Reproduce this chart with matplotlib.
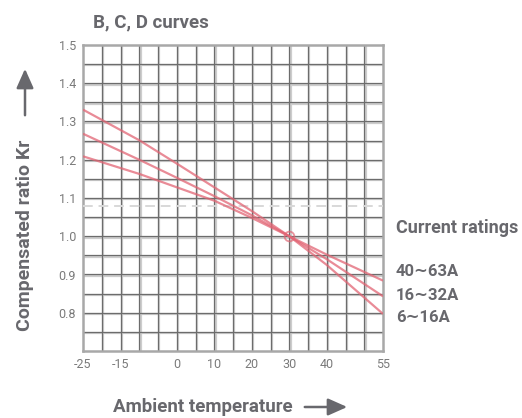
import matplotlib
matplotlib.use("Agg")
import matplotlib.pyplot as plt
import matplotlib.transforms as mtransforms
from matplotlib.patches import FancyArrowPatch
import numpy as np

# data
temps = [-25, -10, 0, 10, 20, 30, 40, 55]
kr_6_16 = [1.331, 1.251, 1.19, 1.128, 1.066, 1.0, 0.925, 0.797]
kr_16_32 = [1.268, 1.200, 1.153, 1.105, 1.055, 1.0, 0.94, 0.843]
kr_40_63 = [1.209, 1.163, 1.128, 1.093, 1.048, 1.0, 0.952, 0.884]
rating_labels = ["40\u223c63A", "16\u223c32A", "6\u223c16A"]
xtick_vals = [-25, -15, 0, 10, 20, 30, 40, 55]
ytick_vals = [0.8, 0.9, 1.0, 1.1, 1.2, 1.3, 1.4, 1.5]
ref_level = 1.08
cross_point = (30, 1.0)

font = ["Roboto", "DejaVu Sans"]
txt_col = "#68686d"
red = "#e26574"

fig = plt.figure(figsize=(5.22, 4.18), dpi=100)
ax = fig.add_axes([83 / 522, 1 - 351 / 418, 300 / 522, 306 / 418])
ax.set_xlim(-25, 55)
ax.set_ylim(0.7, 1.5)

# grid: dark thin line with a pale band beside it
shift = mtransforms.ScaledTranslation(1.3 / 100, -1.3 / 100, fig.dpi_scale_trans)
xt = ax.get_xaxis_transform()
yt = ax.get_yaxis_transform()
for xv in np.arange(-20, 55, 5):
    ax.plot([xv, xv], [0, 1], color="#cdcdcd", lw=1.6, transform=xt + shift, zorder=1)
    ax.plot([xv, xv], [0, 1], color="#6c6c6c", lw=0.9, transform=xt, zorder=2)
for yv in np.arange(0.75, 1.5, 0.05):
    ax.plot([0, 1], [yv, yv], color="#cdcdcd", lw=1.6, transform=yt + shift, zorder=1)
    ax.plot([0, 1], [yv, yv], color="#6c6c6c", lw=0.9, transform=yt, zorder=2)

ax.axhline(ref_level, color="#d8d8d8", lw=1.4, ls=(0, (5, 3)), zorder=3)

for ys in (kr_6_16, kr_16_32, kr_40_63):
    ax.plot(temps, ys, color=red, lw=1.6, alpha=0.75, zorder=4, solid_capstyle="butt")
ax.plot(*cross_point, "o", ms=7, mfc="none", mec=red, mew=1.3, alpha=0.7, zorder=5)

for s in ax.spines.values():
    s.set_color("#a8a8a8")
    s.set_linewidth(1.8)

ax.set_xticks(xtick_vals)
ax.set_xticklabels([str(v) for v in xtick_vals])
ax.set_yticks(ytick_vals)
ax.set_yticklabels(["%.1f" % v for v in ytick_vals])
ax.tick_params(length=0, pad=5, labelcolor="#7a7a7a", labelsize=9)
for lab in ax.get_xticklabels() + ax.get_yticklabels():
    lab.set_family(font)

fig.text(93 / 522, 1 - 22 / 418, "B, C, D curves", family=font, fontweight="bold",
         fontsize=13.5, color=txt_col, ha="left", va="center")
fig.text(396 / 522, 1 - 228 / 418, "Current ratings", family=font, fontweight="bold",
         fontsize=13, color=txt_col, ha="left", va="center")
for lab, yp in zip(rating_labels, [272, 296, 318]):
    fig.text(396 / 522, 1 - yp / 418, lab, family=font, fontweight="bold",
             fontsize=12, color=txt_col, ha="left", va="center")

fig.text(25 / 522, 1 - 235 / 418, "Compensated ratio Kr", family=font, fontweight="bold",
         fontsize=14, color=txt_col, ha="center", va="center", rotation=90)
fig.text(203 / 522, 1 - 407 / 418, "Ambient temperature", family=font, fontweight="bold",
         fontsize=13.5, color=txt_col, ha="center", va="center")

arr_kw = dict(arrowstyle="-|>,head_length=0.9,head_width=0.4", color=txt_col, lw=1.8,
              transform=fig.transFigure, mutation_scale=13)
fig.patches.append(FancyArrowPatch((25 / 522, 1 - 118 / 418), (25 / 522, 1 - 66 / 418), **arr_kw))
fig.patches.append(FancyArrowPatch((302 / 522, 1 - 407 / 418), (350 / 522, 1 - 407 / 418), **arr_kw))

fig.savefig("out.png", dpi=100)
